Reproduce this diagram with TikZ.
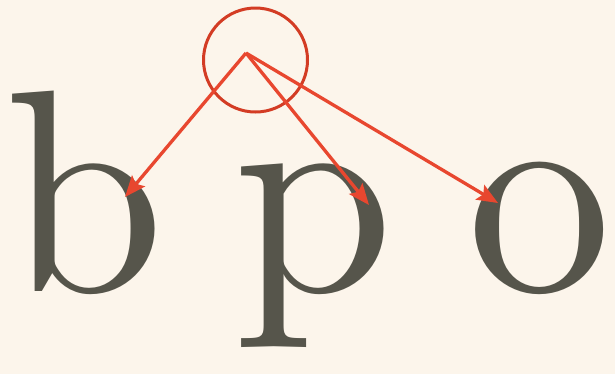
\documentclass[tikz,border=0pt]{standalone}
\usepackage{fontspec}
\newfontfamily\glyphfont{lmroman10-regular.otf}
\usepackage{xcolor}
\definecolor{paper}{HTML}{FCF5EB}
\definecolor{ink}{HTML}{56554B}
\definecolor{myred}{HTML}{E8472F}
\definecolor{ringred}{HTML}{D33C24}
\usepackage{tikz}
\usetikzlibrary{arrows.meta}

\begin{document}
\begin{tikzpicture}[x=1bp,y=-1bp]
        \fill[paper] (0,0) rectangle (615,374);
        \useasboundingbox (0,0) rectangle (615,374);
        \path foreach \l/\x in {b/85,p/314,o/540}{(\x,291) node[ink,anchor=base,inner sep=0pt,font=\glyphfont\fontsize{290}{290}\selectfont] (\l) {\l}};
        \node[draw=ringred,line width=3bp,circle,minimum size=104bp,inner sep=0pt] (ring) at (255.5,60) {};
        \coordinate (src) at (246,53);
        \coordinate (tipb) at (125,197);
        \coordinate (tipp) at (369,205);
        \coordinate (tipo) at (498,203);
        \foreach \t in {tipb,tipp,tipo}
          \draw[myred,line width=3.3bp,-{Stealth[length=21bp,width=17bp,inset=4bp]}] (src) -- (\t);
      \end{tikzpicture}
\end{document}
